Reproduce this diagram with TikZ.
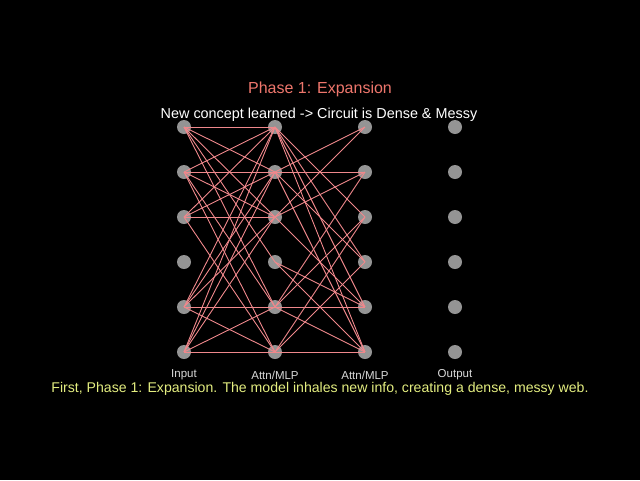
\documentclass[tikz,border=0pt]{standalone}
\usepackage{fontspec}
\setmainfont{Liberation Sans}
\definecolor{titlered}{RGB}{238,118,108}
\definecolor{capyellow}{RGB}{228,238,128}
\definecolor{edgepink}{RGB}{240,136,140}
\definecolor{neurongray}{RGB}{148,148,148}
\tikzset{
	neuron/.style={circle, fill=neurongray, inner sep=0pt, minimum size=14pt},
	link/.style={edgepink, line width=0.9pt},
	layerlabel/.style={text=white!85!black, font=\fontsize{11.5}{13}\selectfont}
}
\begin{document}
\begin{tikzpicture}[x=1pt,y=-1pt]
	\fill[black] (0,0) rectangle (640,480);
	\useasboundingbox (0,0) rectangle (640,480);

	% titles
	\node[text=titlered, font=\fontsize{16}{19}\selectfont] (title) at (320,89) {Phase 1: Expansion};
	\node[text=white, font=\fontsize{14.4}{17}\selectfont] (subtitle) at (319,115) {New concept learned -> Circuit is Dense \& Messy};

	% neurons
	\foreach \c/\x in {1/184,2/275,3/365,4/455}
		\foreach \r in {1,...,6}
			\node[neuron] (n\c\r) at (\x,{127+45*(\r-1)}) {};

	% connections
	\foreach \a/\b in {1/1,1/2,1/3,1/4,1/5,2/1,2/2,2/3,2/5,2/6,3/1,3/2,3/3,3/6,5/1,5/2,5/3,5/5,5/6,6/1,6/2,6/3,6/5,6/6}
		\draw[link] (n1\a.center) -- (n2\b.center);
	\foreach \a/\b in {1/3,1/4,1/5,1/6,2/1,2/2,2/4,2/6,3/1,3/2,3/5,4/5,4/6,5/2,5/3,5/5,5/6,6/3,6/4,6/6}
		\draw[link] (n2\a.center) -- (n3\b.center);

	% layer names
	\node[layerlabel] (lin) at (184,375) {Input};
	\node[layerlabel] (lh1) at (275,375) {Attn/MLP};
	\node[layerlabel] (lh2) at (365,375) {Attn/MLP};
	\node[layerlabel] (lout) at (455,375) {Output};

	\node[text=capyellow, font=\fontsize{14.1}{17}\selectfont] (caption) at (320,389) {First, Phase 1: Expansion. The model inhales new info, creating a dense, messy web.};
\end{tikzpicture}
\end{document}
